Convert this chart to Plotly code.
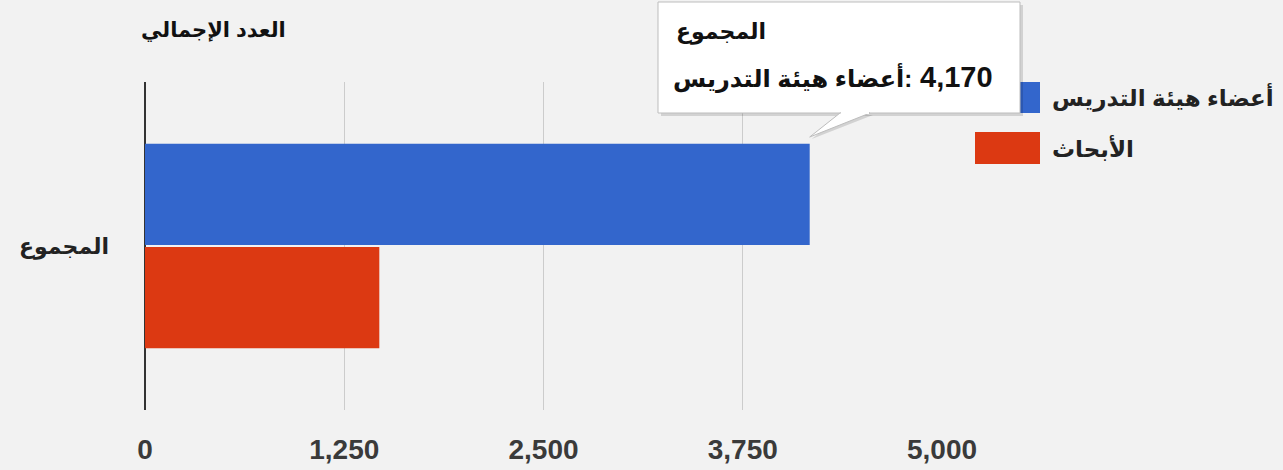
import plotly.graph_objects as go

# ---- data ----
categories = ["المجموع"]
series_names = ["أعضاء هيئة التدريس", "الأبحاث"]
faculty_values = [4170]
research_values = [1470]
series_colors = ["#3366cc", "#dc3912"]
x_tick_values = [0, 1250, 2500, 3750, 5000]
x_tick_labels = ["0", "1,250", "2,500", "3,750", "5,000"]
chart_title = "العدد الإجمالي"
tooltip_title = "المجموع"

# ---- layout geometry (pixels) ----
W, H = 1283, 470
L, R, T, B = 145, 942, 82, 410
XMAX = 5000
BG = "#f2f2f2"
FONT = "Arial, Liberation Sans, DejaVu Sans, sans-serif"


def px(x):
    return (x - L) / (R - L)


def py(y):
    return (B - y) / (B - T)


fig = go.Figure()
for name, vals, col in zip(series_names, [faculty_values, research_values], series_colors):
    fig.add_trace(go.Bar(
        y=categories, x=vals, orientation="h", name=name,
        marker=dict(color=col, line=dict(width=0)),
        showlegend=False, hoverinfo="skip",
    ))

shapes = []
annotations = []

# custom legend (swatches + labels)
leg_rows = [(82, 113, 97), (132, 164, 148)]
for (y0, y1, yc), name, col in zip(leg_rows, series_names, series_colors):
    shapes.append(dict(type="rect", xref="paper", yref="paper",
                       x0=px(975), x1=px(1040), y0=py(y1), y1=py(y0),
                       fillcolor=col, line=dict(width=0), layer="above"))
    annotations.append(dict(text="<b>" + name + "</b>", xref="paper", yref="paper",
                            x=px(1050), y=py(yc), xanchor="left", yanchor="middle",
                            showarrow=False, font=dict(size=23, color="#222", family=FONT)))

# tooltip box
tip_x = px(L + faculty_values[0] / XMAX * (R - L))
shapes.append(dict(type="rect", xref="paper", yref="paper",
                   x0=px(661), x1=px(1023), y0=py(116), y1=py(5),
                   fillcolor="rgba(0,0,0,0.13)", line=dict(width=0), layer="above"))
shapes.append(dict(type="path", xref="paper", yref="paper",
                   path=f"M {px(842)} {py(115)} L {tip_x + px(L+2)-px(L)} {py(139)} L {px(873)} {py(115)} Z",
                   fillcolor="rgba(0,0,0,0.13)", line=dict(width=0), layer="above"))
shapes.append(dict(type="rect", xref="paper", yref="paper",
                   x0=px(658), x1=px(1020), y0=py(113), y1=py(2),
                   fillcolor="white", line=dict(color="#bdbdbd", width=1), layer="above"))
shapes.append(dict(type="path", xref="paper", yref="paper",
                   path=f"M {px(840)} {py(113)} L {tip_x} {py(137)} L {px(870)} {py(113)} Z",
                   fillcolor="white", line=dict(color="#bdbdbd", width=1), layer="above"))
shapes.append(dict(type="line", xref="paper", yref="paper",
                   x0=px(841), x1=px(869), y0=py(113), y1=py(113),
                   line=dict(color="white", width=2), layer="above"))

annotations.append(dict(text="<b>" + tooltip_title + "</b>", xref="paper", yref="paper",
                        x=px(674), y=py(32), xanchor="left", yanchor="middle",
                        showarrow=False, font=dict(size=22, color="#111", family=FONT)))
annotations.append(dict(text="<b>" + series_names[0] + ":\u200e</b>", xref="paper", yref="paper",
                        x=px(914), y=py(78), xanchor="right", yanchor="middle",
                        showarrow=False, font=dict(size=24, color="#111", family=FONT)))
annotations.append(dict(text="<b>" + f"{faculty_values[0]:,}" + "</b>", xref="paper", yref="paper",
                        x=px(918), y=py(77), xanchor="left", yanchor="middle",
                        showarrow=False, font=dict(size=29, color="#111", family=FONT)))

fig.update_layout(
    width=W, height=H,
    margin=dict(l=L, r=W - R, t=T, b=H - B, pad=0, autoexpand=False),
    paper_bgcolor=BG, plot_bgcolor=BG,
    barmode="group", bargap=0.37, bargroupgap=0.02,
    font=dict(family=FONT),
    title=dict(text="<b>" + chart_title + "</b>", xref="container", yref="container",
               x=141 / W, y=1 - 30 / H, xanchor="left", yanchor="middle",
               font=dict(size=21, color="#111", family=FONT), automargin=False),
    xaxis=dict(range=[0, XMAX], tickvals=x_tick_values, ticktext=x_tick_labels,
               showgrid=True, gridcolor="#cccccc", gridwidth=1,
               zeroline=True, zerolinecolor="#333333", zerolinewidth=2,
               showline=False, ticks="", ticklabelstandoff=20, automargin=False,
               tickfont=dict(size=28, color="#3a3a3a", family=FONT, weight=700),
               fixedrange=True),
    yaxis=dict(type="category", autorange="reversed", showgrid=False, showline=False,
               zeroline=False, ticks="", ticklabelstandoff=35, automargin=False,
               tickfont=dict(size=22, color="#222", family=FONT, weight=700),
               fixedrange=True),
    shapes=shapes, annotations=annotations,
)

fig.write_html(
    "out.html",
    post_script="document.body.style.margin='0';document.body.style.background='#f2f2f2';",
    config={"displayModeBar": False},
)
